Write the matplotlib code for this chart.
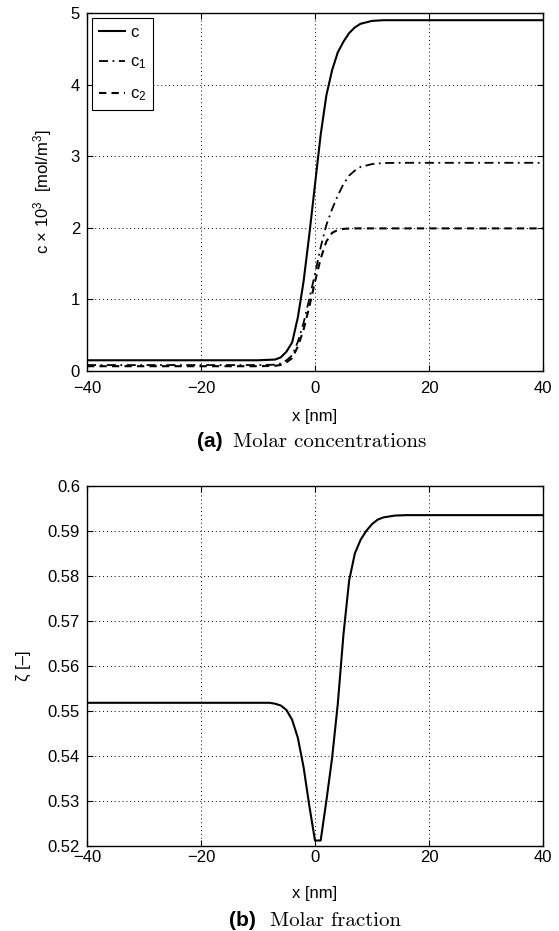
import numpy as np
import matplotlib
matplotlib.use("Agg")
import matplotlib.pyplot as plt

plt.rcParams['font.family'] = ['Liberation Sans', 'DejaVu Sans']
plt.rcParams['mathtext.default'] = 'regular'

# (a) molar concentrations, c x 10^3 [mol/m^3]
x_c = [-40, -10, -7, -6, -5, -4, -3, -2, -1, 0, 1, 2, 3, 4, 5, 6, 7, 8, 10, 12, 15, 20, 40]
c = [0.15, 0.15, 0.16, 0.19, 0.27, 0.40, 0.75, 1.25, 1.9, 2.6, 3.3, 3.85, 4.2, 4.45,
     4.6, 4.72, 4.8, 4.85, 4.89, 4.9, 4.9, 4.9, 4.9]
c1 = [0.083, 0.083, 0.088, 0.105, 0.149, 0.219, 0.408, 0.672, 1.005, 1.355, 1.73, 2.04,
      2.26, 2.45, 2.61, 2.73, 2.80, 2.85, 2.89, 2.905, 2.908, 2.908, 2.908]
c2 = [0.067, 0.067, 0.072, 0.085, 0.121, 0.181, 0.342, 0.578, 0.895, 1.245, 1.57, 1.81,
      1.93, 1.97, 1.985, 1.99, 1.992, 1.992, 1.992, 1.992, 1.992, 1.992, 1.992]

# (b) molar fraction zeta [-]
x_z = [-40, -8, -7, -6, -5, -4, -3, -2, -1, 0, 1, 2, 3, 4, 5, 6, 7, 8, 9, 10, 11, 12, 14, 16, 40]
zeta = [0.5518, 0.5518, 0.5516, 0.5512, 0.5502, 0.548, 0.544, 0.5375, 0.529, 0.5212, 0.5212,
        0.530, 0.5395, 0.5515, 0.567, 0.579, 0.585, 0.588, 0.590, 0.5915, 0.5925, 0.593,
        0.5934, 0.5935, 0.5935]

xticks = [-40, -20, 0, 20, 40]
xticklabels = ['\u221240', '\u221220', '0', '20', '40']

fig = plt.figure(figsize=(5.59, 9.31), dpi=100)
ax1 = fig.add_axes([0.1556, 0.6015, 0.8157, 0.3845])
ax2 = fig.add_axes([0.1556, 0.0914, 0.8157, 0.3867])

ax1.plot(x_c, c, color='black', lw=1.5, ls='-', label='c')
ax1.plot(x_c, c1, color='black', lw=1.3, ls=(0, (5, 2.5, 1, 2.5)), label='$c_1$')
ax1.plot(x_c, c2, color='black', lw=1.5, ls=(0, (3.5, 2.5)), label='$c_2$')
ax1.set_xlim(-40, 40)
ax1.set_ylim(0, 5)
ax1.set_xticks(xticks)
ax1.set_xticklabels(xticklabels)
ax1.set_yticks([0, 1, 2, 3, 4, 5])
ax1.set_xlabel('x [nm]', fontsize=12, labelpad=9)
ax1.set_ylabel('c \u00d7 10$^3$  [mol/m$^3$]', fontsize=12, labelpad=12)
leg = ax1.legend(loc='upper left', fancybox=False, edgecolor='black', framealpha=1,
                 borderaxespad=0.3, handlelength=1.6, labelspacing=0.9, handletextpad=0.3,
                 borderpad=0.4, fontsize=12)
leg.get_frame().set_linewidth(0.8)

ax2.plot(x_z, zeta, color='black', lw=1.5)
ax2.set_xlim(-40, 40)
ax2.set_ylim(0.52, 0.6)
ax2.set_xticks(xticks)
ax2.set_xticklabels(xticklabels)
ax2.set_yticks(np.arange(0.52, 0.6001, 0.01))
ax2.set_yticklabels(['0.52', '0.53', '0.54', '0.55', '0.56', '0.57', '0.58', '0.59', '0.6'])
ax2.set_xlabel('x [nm]', fontsize=12, labelpad=15)
ax2.set_ylabel('\u03b6 [\u2013]', fontsize=12, labelpad=12)

for ax in (ax1, ax2):
    ax.grid(True, color='black', ls=(0, (1, 3)), lw=0.7)
    ax.tick_params(direction='in', top=True, right=True, labelsize=12, length=4, width=0.8)
    ax.tick_params(axis='y', pad=5)
    for s in ax.spines.values():
        s.set_linewidth(1.0)
ax1.tick_params(axis='x', pad=7.5)
ax2.tick_params(axis='x', pad=3)

# captions
fig.text(197 / 559, 1 - 447 / 931, '(a)', fontsize=15, fontweight='bold', va='baseline', ha='left')
fig.text(233 / 559, 1 - 447 / 931, 'Molar concentrations', fontsize=15, family='cmr10',
         va='baseline', ha='left')
fig.text(229 / 559, 1 - 926 / 931, '(b)', fontsize=15, fontweight='bold', va='baseline', ha='left')
fig.text(270 / 559, 1 - 926 / 931, 'Molar fraction', fontsize=15, family='cmr10',
         va='baseline', ha='left')

fig.savefig('out.png', dpi=100)
